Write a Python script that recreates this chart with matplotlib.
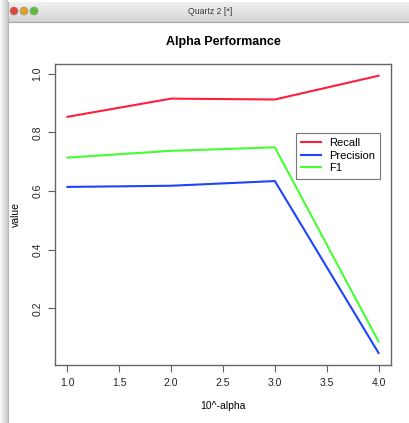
import numpy as np
import matplotlib
matplotlib.use('Agg')
import matplotlib.pyplot as plt
from matplotlib.patches import Circle

# data
alpha = [1, 2, 3, 4]
recall = [0.853, 0.915, 0.912, 0.993]
precision = [0.614, 0.618, 0.634, 0.048]
f1 = [0.714, 0.737, 0.749, 0.087]
series_names = ['Recall', 'Precision', 'F1']
series_colors = ['#ff1f3d', '#1c44ff', '#44ff33']

W, H = 410, 423
plt.rcParams['font.family'] = ['Liberation Sans', 'DejaVu Sans']
fig = plt.figure(figsize=(W / 100, H / 100), dpi=100, facecolor='white')

# window chrome drawn in pixel coordinates
bg = fig.add_axes([0, 0, 1, 1])
bg.set_xlim(0, W)
bg.set_ylim(H, 0)
bg.axis('off')
shadow = np.linspace(0.97, 0.80, 8)[None, :]
bg.imshow(np.repeat(shadow, 10, axis=0), cmap='gray', vmin=0, vmax=1,
          extent=(0, 8, H, 0), aspect='auto', zorder=0)
bar = np.linspace(0.94, 0.83, 20)[:, None]
bg.imshow(np.repeat(bar, 10, axis=1), cmap='gray', vmin=0, vmax=1,
          extent=(8, W, 22, 2), aspect='auto', zorder=1)
bg.plot([8, W], [22, 22], color='#a8a8a8', lw=0.8, zorder=2)
bg.plot([8, 8], [2, H], color='#b8b8b8', lw=0.8, zorder=2)
for cx, c in zip([14, 24, 34], ['#e0443e', '#dea123', '#5bbd3a']):
    bg.add_patch(Circle((cx, 11), 4.0, facecolor=c, edgecolor='#909090', lw=0.4, zorder=3))
bg.text(210, 11, 'Quartz 2 [*]', ha='center', va='center', fontsize=6.3, color='#3a3a3a', zorder=3)

# plot region
ax = fig.add_axes([55 / W, 58 / H, 336 / W, 301 / H])
series = [recall, precision, f1]
for vals, name, col in zip(series, series_names, series_colors):
    ax.plot(alpha, vals, color=col, lw=1.5, label=name)

ax.set_xlim(0.88, 4.12)
ax.set_ylim(0.007, 1.033)
ax.set_xticks([1.0, 1.5, 2.0, 2.5, 3.0, 3.5, 4.0])
ax.set_xticklabels(['1.0', '1.5', '2.0', '2.5', '3.0', '3.5', '4.0'])
ax.set_yticks([0.2, 0.4, 0.6, 0.8, 1.0])
ax.set_yticklabels(['0.2', '0.4', '0.6', '0.8', '1.0'], rotation=90, va='center')
ax.tick_params(direction='out', length=5, width=0.8, colors='#606060',
               labelcolor='#222222', labelsize=7.5, pad=4)
for s in ax.spines.values():
    s.set_color('#666666')
    s.set_linewidth(1.0)

ax.set_title('Alpha Performance', fontsize=9, fontweight='bold', pad=14)
ax.set_xlabel('10^-alpha', fontsize=7.5, labelpad=10)
ax.set_ylabel('value', fontsize=7.5, labelpad=8)

leg = ax.legend(loc='upper left', bbox_to_anchor=(0.717, 0.772), fontsize=8,
                frameon=True, fancybox=False, handlelength=1.75, handletextpad=0.7,
                borderpad=0.5, labelspacing=0.22, borderaxespad=0)
leg.get_frame().set_edgecolor('#555555')
leg.get_frame().set_linewidth(0.8)

fig.savefig('out.png', dpi=100, facecolor='white')
